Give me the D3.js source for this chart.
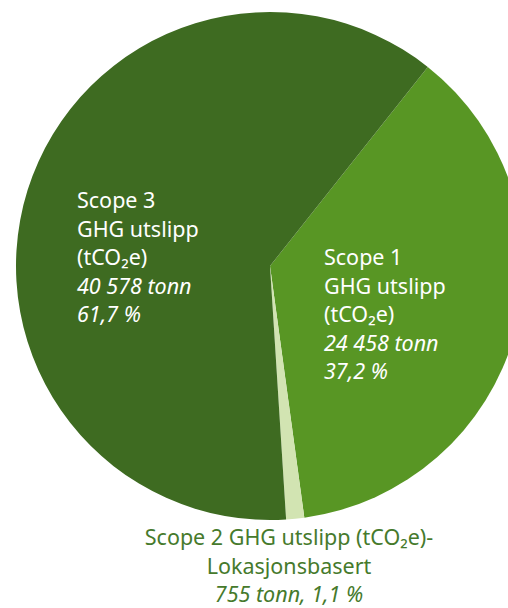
<!DOCTYPE html>
<html>
<head>
<meta charset="utf-8">
<script src="https://cdn.jsdelivr.net/npm/d3@7"></script>
<style>
  body { margin: 0; background: #fff; }
  svg { display: block; font-family: "Noto Sans", "Open Sans", sans-serif; }
</style>
</head>
<body>
<svg width="508" height="608"></svg>
<script>
// data
var categories = ["Scope 1", "Scope 2", "Scope 3"];
var tonnes = [24458, 755, 40578];
var shares = ["37,2 %", "1,1 %", "61,7 %"];
var tonnLabels = ["24 458 tonn", "755 tonn", "40 578 tonn"];

var colors = ["#589624", "#d2e4b2", "#3e6b21"];

var svg = d3.select("svg"),
  cx = 270,
  cy = 266,
  radius = 254;

var pie = d3.pie()
  .sort(null)
  .startAngle(38.4 * Math.PI / 180)
  .endAngle(38.4 * Math.PI / 180 + 2 * Math.PI)
  .value(function (d) { return d; });

var arc = d3.arc()
  .innerRadius(0)
  .outerRadius(radius);

var g = svg.append("g")
  .attr("transform", "translate(" + cx + "," + cy + ")");

g.selectAll("path")
  .data(pie(tonnes))
  .enter().append("path")
  .attr("d", arc)
  .attr("fill", function (d, i) { return colors[i]; });

// labels inside the pie (Scope 1 and Scope 3)
var inside = [
  { i: 0, x: 324, y: 265 },
  { i: 2, x: 77, y: 208 }
];

inside.forEach(function (l) {
  var t = svg.append("text")
    .attr("x", l.x)
    .attr("y", l.y)
    .attr("fill", "#fff")
    .style("font-size", "21.5px");
  var lines = [
    { s: categories[l.i], it: false },
    { s: "GHG utslipp", it: false },
    { s: "(tCO\u2082e)", it: false },
    { s: tonnLabels[l.i], it: true },
    { s: shares[l.i], it: true }
  ];
  lines.forEach(function (ln, k) {
    t.append("tspan")
      .attr("x", l.x)
      .attr("dy", k === 0 ? 0 : 28.6)
      .style("font-style", ln.it ? "italic" : "normal")
      .text(ln.s);
  });
});

// label below the pie (Scope 2)
var bottom = svg.append("text")
  .attr("x", 289)
  .attr("y", 545)
  .attr("text-anchor", "middle")
  .attr("fill", "#467a2c")
  .style("font-size", "21.5px");

[
  { s: categories[1] + " GHG utslipp (tCO\u2082e)-", it: false },
  { s: "Lokasjonsbasert", it: false },
  { s: tonnLabels[1] + ", " + shares[1], it: true }
].forEach(function (ln, k) {
  bottom.append("tspan")
    .attr("x", 289)
    .attr("dy", k === 0 ? 0 : 28.5)
    .style("font-style", ln.it ? "italic" : "normal")
    .text(ln.s);
});
</script>
</body>
</html>
